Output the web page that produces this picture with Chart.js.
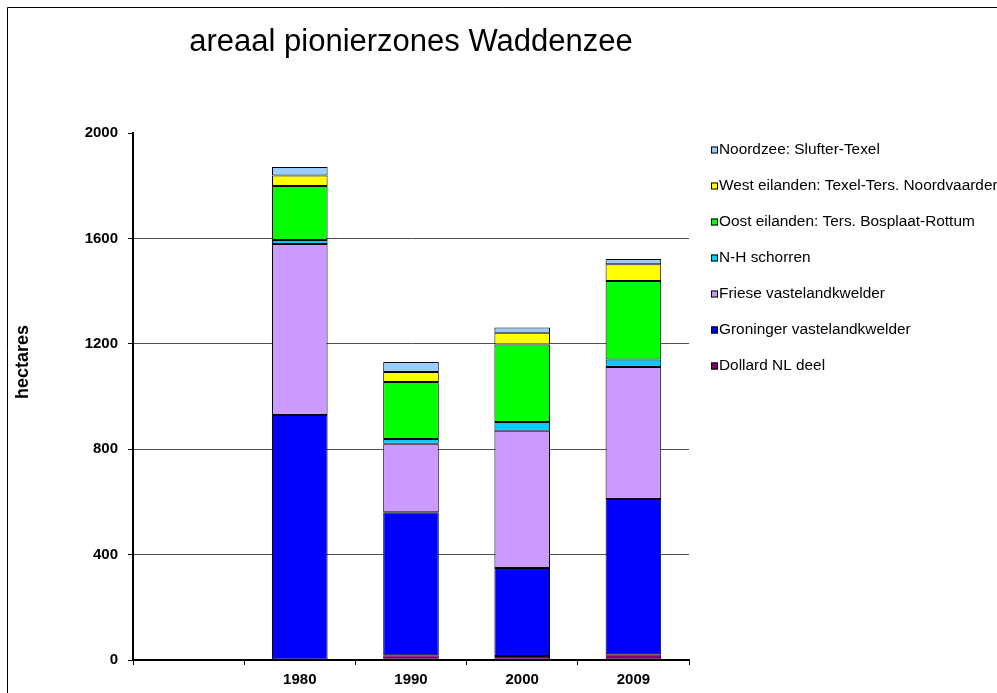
<!DOCTYPE html>
<html><head><meta charset="utf-8">
<script src="https://cdn.jsdelivr.net/npm/chart.js@4/dist/chart.umd.min.js"></script>
<style>html,body{margin:0;padding:0;background:#fff;}</style>
</head><body>
<canvas id="c" width="997" height="693" style="display:block;width:997px;height:693px"></canvas>
<script>
const categories = ['', '1980', '1990', '2000', '2009'];
const dollard      = [null, 0, 18, 15, 22];
const groninger    = [null, 930, 543, 334, 589];
const friese       = [null, 649, 260, 521, 501];
const nhSchorren   = [null, 15, 18, 33, 28];
const oostEilanden = [null, 205, 216, 294, 298];
const westEilanden = [null, 40, 38, 45, 64];
const noordzee     = [null, 32, 38, 20, 20];
const seriesNames = ['Dollard NL deel', 'Groninger vastelandkwelder', 'Friese vastelandkwelder', 'N-H schorren', 'Oost eilanden: Ters. Bosplaat-Rottum', 'West eilanden: Texel-Ters. Noordvaarder', 'Noordzee: Slufter-Texel'];
const seriesColors = ['#800070', '#0000FF', '#CC99FF', '#00CCFF', '#00FF00', '#FFFF00', '#99CCFF'];
const yTicks = [0, 400, 800, 1200, 1600, 2000];
const titleText = 'areaal pionierzones Waddenzee';
const yTitle = 'hectares';

const FONT = '"Liberation Sans", Arial, sans-serif';
const seriesData = [dollard, groninger, friese, nhSchorren, oostEilanden, westEilanden, noordzee];

const extras = {
  id: 'extras',
  afterDraw(chart) {
    const ctx = chart.ctx;
    ctx.save();
    // outer frame
    ctx.strokeStyle = '#000'; ctx.lineWidth = 1;
    ctx.beginPath();
    ctx.moveTo(7.5, 700); ctx.lineTo(7.5, 7.5); ctx.lineTo(1000, 7.5);
    ctx.stroke();
    // y title
    ctx.save();
    ctx.translate(23, 362);
    ctx.rotate(-Math.PI / 2);
    ctx.font = 'bold 18px ' + FONT;
    ctx.fillStyle = '#000';
    ctx.textAlign = 'center';
    ctx.textBaseline = 'middle';
    ctx.fillText(yTitle, 0, 0);
    ctx.restore();
    // legend (reverse order)
    ctx.font = '15.4px ' + FONT;
    ctx.textBaseline = 'middle';
    ctx.textAlign = 'left';
    const ds = chart.data.datasets;
    for (let k = 0; k < ds.length; k++) {
      const d = ds[ds.length - 1 - k];
      const y = 150 + k * 36;
      ctx.fillStyle = d.backgroundColor;
      ctx.fillRect(711, y - 3.5, 7, 7);
      ctx.strokeStyle = '#000';
      ctx.lineWidth = 1;
      ctx.strokeRect(711.5, y - 3, 6, 6);
      ctx.fillStyle = '#000';
      ctx.fillText(d.label, 719, y);
    }
    ctx.restore();
  }
};

new Chart(document.getElementById('c'), {
  type: 'bar',
  data: {
    labels: categories,
    datasets: seriesData.map((arr, i) => ({
      label: seriesNames[i],
      data: arr,
      backgroundColor: seriesColors[i],
      borderColor: '#000',
      borderWidth: 1,
      borderSkipped: false,
      barPercentage: 0.5,
      categoryPercentage: 1.0
    }))
  },
  options: {
    responsive: false,
    animation: false,
    devicePixelRatio: 1,
    layout: { padding: { left: 0, top: 0, right: 308, bottom: 0 } },
    plugins: {
      legend: { display: false },
      tooltip: { enabled: false },
      title: {
        display: true,
        text: titleText,
        fullSize: false,
        color: '#000',
        font: { family: FONT, size: 31, weight: 'normal', lineHeight: 1.2 },
        padding: { top: 23.4, bottom: 72.4 }
      }
    },
    scales: {
      x: {
        stacked: true,
        offset: true,
        grid: { display: true, drawOnChartArea: false, drawTicks: true, tickLength: 5, tickColor: '#000', offset: true },
        border: { display: true, color: '#000', width: 2 },
        ticks: { color: '#000', font: { family: FONT, size: 15, weight: 'bold' }, padding: 6, maxRotation: 0, autoSkip: false },
        afterFit(s) { s.height = 33; s.paddingLeft = 0; s.paddingRight = 0; }
      },
      y: {
        stacked: true,
        min: 0, max: 2000,
        afterBuildTicks(s) { s.ticks = yTicks.map(v => ({ value: v })); },
        grid: {
          color: c => (c.tick && c.tick.value === 2000) ? 'rgba(0,0,0,0)' : '#505050',
          tickColor: '#000', tickLength: 5, lineWidth: 1
        },
        border: { display: true, color: '#000', width: 2 },
        ticks: { color: '#000', font: { family: FONT, size: 15, weight: 'bold' }, padding: 10, callback: v => String(v) },
        afterFit(s) { s.width = 133; s.paddingTop = 0; s.paddingBottom = 0; }
      }
    }
  },
  plugins: [extras]
});
</script>
</body></html>
